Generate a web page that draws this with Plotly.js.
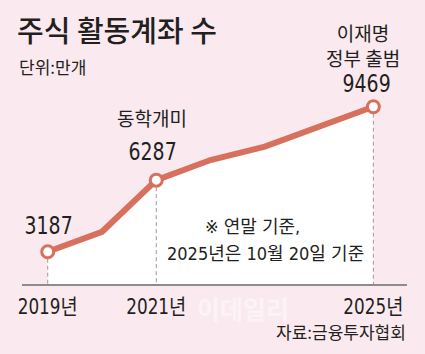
<!DOCTYPE html>
<html>
<head>
<meta charset="utf-8">
<script src="https://cdn.plot.ly/plotly-3.0.1.min.js"></script>
<style>
  html, body { margin: 0; padding: 0; background: #faeaf0; }
  #chart { width: 425px; height: 354px; }
</style>
</head>
<body>
<div id="chart"></div>
<script>
// ---- data ----
const years = [2019, 2020, 2021, 2022, 2023, 2024, 2025];
const accounts = [3187, 4050, 6287, 7160, 7740, 8590, 9469];   // 만개
const keyYears = [2019, 2021, 2025];
const tickYears = [2019, 2021, 2025];
const tickLabels = ['2019년', '2021년', '2025년'];
const eventYears = [2021, 2025];
const eventLabels = ['동학개미', '이재명<br>정부 출범'];

const titleText = '주식 활동계좌 수';
const unitText = '단위:만개';
const noteLines = ['※ 연말 기준,', '2025년은 10월 20일 기준'];
const sourceText = '자료:금융투자협회';

// ---- styles ----
const LINE = '#d8705e';
const INK = '#231f20';
const BG = '#faeaf0';
const NUM_FONT = 'DejaVu Sans Condensed, Noto Sans CJK KR, sans-serif';
const KR_FONT = 'Noto Sans CJK KR, sans-serif';
const MIX_FONT = 'DejaVu Sans Condensed, Noto Sans CJK KR, sans-serif';

const Y0 = 1788, Y1 = 14092;
const valueOf = y => accounts[years.indexOf(y)];

const traces = [];
traces.push({
  x: years, y: accounts, type: 'scatter', mode: 'lines',
  line: { color: LINE, width: 6 },
  fill: 'tozeroy', fillcolor: '#ffffff',
  hoverinfo: 'skip'
});
keyYears.forEach(yr => {
  traces.push({
    x: [yr, yr], y: [valueOf(yr), Y0], type: 'scatter', mode: 'lines',
    line: { color: '#9a9a9a', width: 1, dash: '4px,3px' }, hoverinfo: 'skip'
  });
});
traces.push({
  x: keyYears, y: keyYears.map(valueOf), type: 'scatter', mode: 'markers',
  marker: { size: 12, color: '#ffffff', line: { color: LINE, width: 3 } },
  hoverinfo: 'skip'
});

const PH = 284; // plot height in px (t=0, b=70)
const py = p => (PH - p) / PH;
const px = p => (p - 22) / 385;

const annotations = [];
// value labels
keyYears.forEach(yr => {
  const shifts = { 2019: [1, 26], 2021: [-4, 29], 2025: [-7, 23] }[yr];
  annotations.push({
    x: yr, y: valueOf(yr), xref: 'x', yref: 'y', text: String(valueOf(yr)),
    showarrow: false, xshift: shifts[0], yshift: shifts[1], yanchor: 'middle',
    borderpad: 0,
    font: { family: NUM_FONT, size: 25, color: INK }
  });
});
// event labels
eventYears.forEach((yr, i) => {
  const sh = yr === 2021 ? [-4, 63] : [-10, 62];
  annotations.push({
    x: yr, y: valueOf(yr), xref: 'x', yref: 'y', text: eventLabels[i],
    showarrow: false, xshift: sh[0], yshift: sh[1], yanchor: 'middle', align: 'center',
    borderpad: 0,
    font: { family: KR_FONT, size: 19, color: INK }
  });
});
// unit
annotations.push({
  x: px(17), y: py(66), xref: 'paper', yref: 'paper', xanchor: 'left', yanchor: 'middle',
  text: unitText, showarrow: false, font: { family: KR_FONT, size: 17, color: INK }
});
// note
annotations.push({
  x: px(252), y: py(227), xref: 'paper', yref: 'paper', xanchor: 'center', yanchor: 'middle',
  text: noteLines[0], showarrow: false, font: { family: MIX_FONT, size: 18, color: INK }
});
annotations.push({
  x: px(265), y: py(253), xref: 'paper', yref: 'paper', xanchor: 'center', yanchor: 'middle',
  text: noteLines[1], showarrow: false, font: { family: MIX_FONT, size: 18, color: INK }
});
// source
annotations.push({
  x: px(407), y: py(331), xref: 'paper', yref: 'paper', xanchor: 'right', yanchor: 'middle',
  text: sourceText, showarrow: false, borderpad: 0, font: { family: KR_FONT, size: 17, color: INK }
});
// watermark
annotations.push({
  x: px(243), y: py(308), xref: 'paper', yref: 'paper', xanchor: 'center', yanchor: 'middle',
  text: '이데일리', showarrow: false, borderpad: 0,
  font: { family: KR_FONT, size: 25, color: 'rgba(255,255,255,0.45)', weight: 700 }
});

const layout = {
  width: 425, height: 354,
  margin: { l: 22, r: 18, t: 0, b: 70 },
  paper_bgcolor: BG, plot_bgcolor: BG,
  showlegend: false,
  title: {
    text: titleText, xref: 'container', yref: 'container',
    x: 17 / 425, xanchor: 'left', y: 1 - 32 / 354, yanchor: 'middle',
    font: { family: KR_FONT, size: 29, color: INK, weight: 500 }
  },
  xaxis: {
    range: [2018.526, 2025.62], showgrid: false, zeroline: false,
    showline: true, linecolor: '#8c8c8c', linewidth: 1.5,
    tickmode: 'array', tickvals: tickYears, ticktext: tickLabels,
    ticks: 'outside', ticklen: 3, tickcolor: 'rgba(0,0,0,0)',
    tickfont: { family: MIX_FONT, size: 21, color: INK }
  },
  yaxis: {
    range: [Y0, Y1], visible: false, showgrid: false, zeroline: false
  },
  annotations: annotations
};

Plotly.newPlot('chart', traces, layout, { staticPlot: true, displayModeBar: false }).then(gd => {
  // condensed look of the original typeface
  const squish = (nodes, f) => nodes.forEach(t => {
    const L = t.getComputedTextLength();
    if (L > 0) {
      t.setAttribute('textLength', (L * f).toFixed(1));
      t.setAttribute('lengthAdjust', 'spacingAndGlyphs');
    }
  });
  squish(Array.from(gd.querySelectorAll('.xtick text')), 0.89);
  squish(Array.from(gd.querySelectorAll('.annotation-text')).filter(t => /^\d+$/.test(t.textContent)), 0.84);
});
</script>
</body>
</html>
